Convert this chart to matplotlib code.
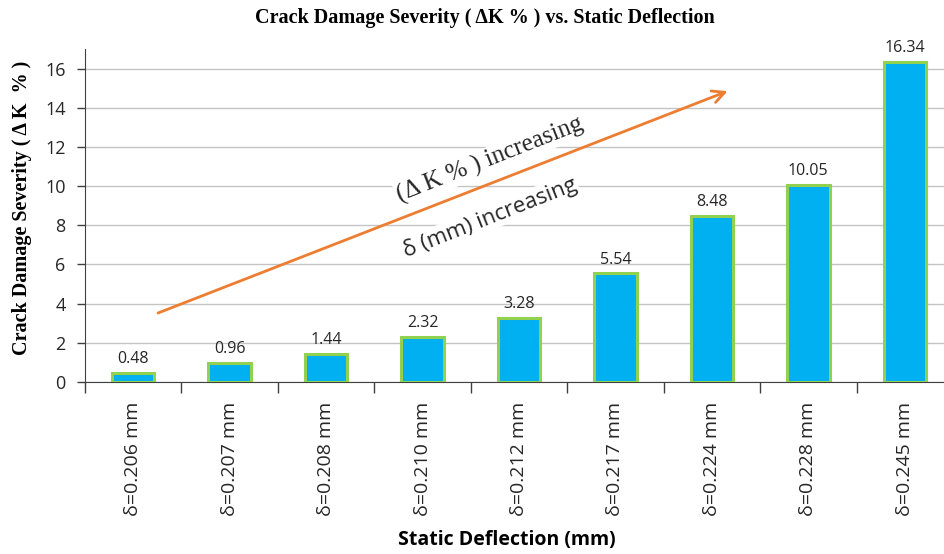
import matplotlib
matplotlib.use("Agg")
import matplotlib.pyplot as plt

categories = ["δ=0.206 mm", "δ=0.207 mm", "δ=0.208 mm", "δ=0.210 mm", "δ=0.212 mm",
              "δ=0.217 mm", "δ=0.224 mm", "δ=0.228 mm", "δ=0.245 mm"]
values = [0.48, 0.96, 1.44, 2.32, 3.28, 5.54, 8.48, 10.05, 16.34]
value_labels = ["0.48", "0.96", "1.44", "2.32", "3.28", "5.54", "8.48", "10.05", "16.34"]
yticks = [0, 2, 4, 6, 8, 10, 12, 14, 16]

W, H = 945, 554
fig = plt.figure(figsize=(W / 100, H / 100), dpi=100)
ax = fig.add_axes([85 / W, 1 - 382 / H, 868 / W, (382 - 49) / H])

x = list(range(len(values)))
ax.bar(x, values, width=0.44, color="#00B0F0", edgecolor="#92D050", linewidth=2.2, zorder=3)
ax.set_xlim(-0.5, len(values) - 0.5)
ax.set_ylim(0, 17)
ax.set_yticks(yticks)
ax.set_yticklabels([str(v) for v in yticks], fontsize=13, family="Open Sans", color="#262626")
ax.set_xticks(x)
ax.set_xticklabels(categories, rotation=90, fontsize=14, family="Open Sans", color="#262626")
ax.tick_params(axis="x", length=0, pad=14)
ax.set_xticks([i - 0.5 for i in range(len(values) + 1)], minor=True)
ax.tick_params(axis="x", which="minor", length=8, width=1, color="#404040")
ax.tick_params(axis="y", length=6, width=1, color="#404040", pad=8)
ax.grid(axis="y", color="#C4C4C4", linewidth=1, zorder=0)
for s in ["top", "right"]:
    ax.spines[s].set_visible(False)
ax.spines["left"].set_color("#404040")
ax.spines["bottom"].set_color("#404040")

for xi, v, lab in zip(x, values, value_labels):
    ax.text(xi, v + 0.3, lab, ha="center", va="bottom", fontsize=11.5, family="Open Sans", color="#262626")

ax.annotate("", xy=(6.19, 14.9), xytext=(0.23, 3.47),
            arrowprops=dict(arrowstyle="->", color="#ED7D31", lw=2, mutation_scale=22), zorder=4)
ax.text(3.7, 11.35, "(Δ K % ) increasing", rotation=21.5, ha="center", va="center",
        fontsize=18, family="Liberation Serif", color="#262626",
        bbox=dict(facecolor="white", edgecolor="none", pad=1), zorder=2)
ax.text(3.7, 8.4, "δ (mm) increasing", rotation=21.5, ha="center", va="center",
        fontsize=16, family="Open Sans", color="#262626",
        bbox=dict(facecolor="white", edgecolor="none", pad=1), zorder=2)

fig.text(485 / W, 1 - 18 / H, "Crack Damage Severity ( ΔK % ) vs. Static Deflection",
         ha="center", va="center", fontsize=14.5, fontweight="bold", family="Liberation Serif")
fig.text(22 / W, 1 - 208 / H, "Crack Damage Severity ( Δ K  % )", rotation=90,
         ha="center", va="center", fontsize=14.5, fontweight="bold", family="Liberation Serif")
fig.text(507 / W, 1 - 540 / H, "Static Deflection (mm)", ha="center", va="center",
         fontsize=14, fontweight="bold", family="Open Sans")

fig.savefig("out.png", dpi=100)
